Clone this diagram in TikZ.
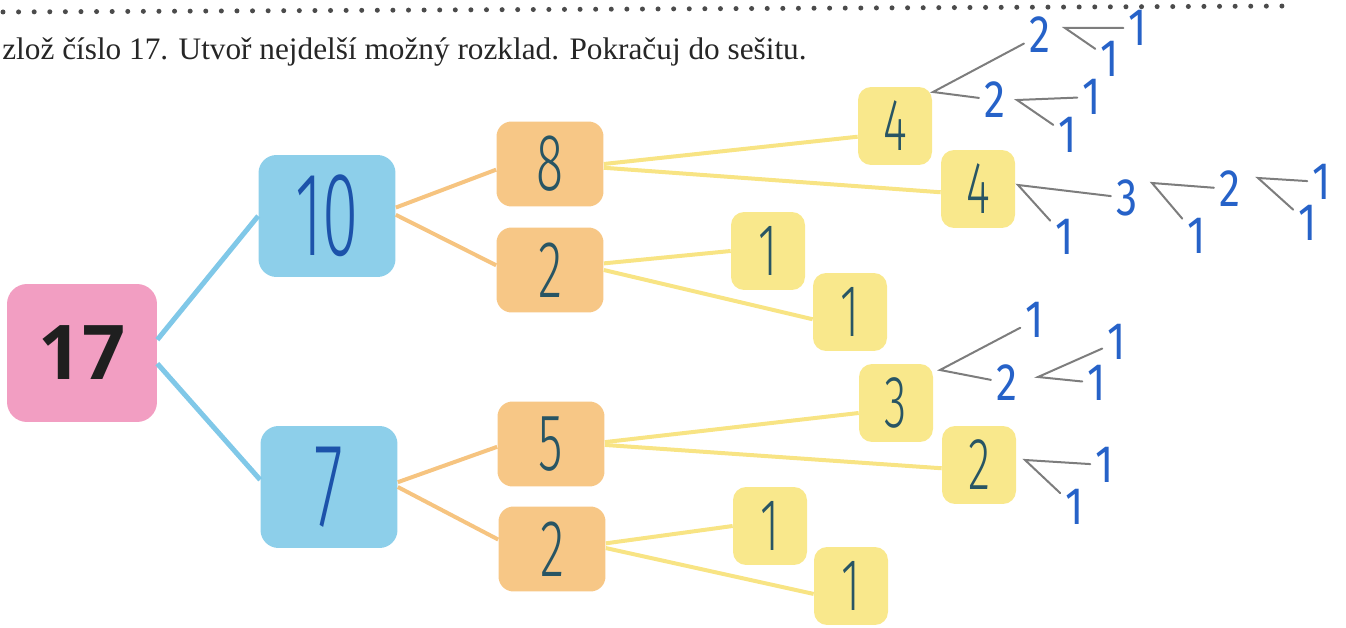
\documentclass[tikz,border=0pt]{standalone}
\usepackage{fontspec}
\usepackage{graphicx}
\usepackage{tikz}
\usetikzlibrary{positioning}
\setmainfont{Liberation Serif}
\newfontfamily\handfont{Fira Sans Light}
\newfontfamily\penfont{Fira Sans}
\newfontfamily\numfont{Open Sans}
\definecolor{boxpink}{RGB}{242,158,194}
\definecolor{boxblue}{RGB}{141,207,234}
\definecolor{boxorange}{RGB}{247,199,134}
\definecolor{boxyellow}{RGB}{249,232,140}
\definecolor{lineblue}{RGB}{128,200,232}
\definecolor{lineorange}{RGB}{246,196,128}
\definecolor{lineyellow}{RGB}{248,228,132}
\definecolor{inkteal}{RGB}{40,85,100}
\definecolor{inkblue}{RGB}{28,82,170}
\definecolor{penblue}{RGB}{38,98,200}
\definecolor{pencilgrey}{RGB}{125,125,125}
\definecolor{dotgrey}{RGB}{75,75,75}
\newcommand{\hnum}[2][0.62]{\scalebox{#1}[1]{#2}}
\newcommand{\pnum}[1]{\scalebox{0.8}[1]{#1}}
\tikzset{
    numbox/.style={inner sep=0pt, align=center},
    pinkbox/.style={numbox, fill=boxpink, minimum width=3cm, minimum height=2.76cm, rounded corners=0.4cm, text=black!88, font=\numfont\bfseries\fontsize{43}{43}\selectfont},
    bluebox/.style={numbox, fill=boxblue, minimum width=2.74cm, minimum height=2.44cm, rounded corners=0.36cm, text=inkblue, font=\handfont\fontsize{68}{68}\selectfont},
    orangebox/.style={numbox, fill=boxorange, minimum width=2.14cm, minimum height=1.7cm, rounded corners=0.3cm, text=inkteal, font=\handfont\fontsize{46}{46}\selectfont},
    yellowbox/.style={numbox, fill=boxyellow, minimum width=1.48cm, minimum height=1.56cm, rounded corners=0.26cm, text=inkteal, font=\handfont\fontsize{42}{42}\selectfont},
    pen/.style={text=penblue, inner sep=3pt, font=\penfont\fontsize{30}{30}\selectfont},
    blueline/.style={draw=lineblue, line width=0.1cm},
    orangeline/.style={draw=lineorange, line width=0.08cm},
    yellowline/.style={draw=lineyellow, line width=0.08cm},
    pencil/.style={draw=pencilgrey, line width=0.04cm, line cap=round},
    dotrow/.style={draw=dotgrey, line width=0.1cm, line cap=round, dash pattern=on 0pt off 0.312cm}
}
\begin{document}
\begin{tikzpicture}[x=0.02cm, y=-0.02cm]
                    \useasboundingbox (0,0) rectangle (1346,628);
                    \coordinate (dotsleft) at (3,12);
                    \coordinate (dotsright) at (1292,6);
                    \draw[dotrow] (dotsleft) -- (dotsright);
                    \node[anchor=base west, inner sep=0pt, text=black!85, font=\fontsize{17.8}{20}\selectfont](task) at (2,60){zlož číslo 17. Utvoř nejdelší možný rozklad. Pokračuj do sešitu.};

                    \node[pinkbox](n17) at (82,353){17};
                    \node[bluebox](n10) at (327,216){\hnum[0.55]{10}};
                    \node[bluebox](n7) at (329,487){\hnum[0.55]{7}};
                    \draw[blueline] (n17.10) -- (n10.west);
                    \draw[blueline] (n17.-8) -- (n7.174);

                    \node[orangebox](n8) at (550,164){\hnum{8}};
                    \node[orangebox](n2u) at (550,270){\hnum{2}};
                    \node[orangebox](n5) at (551,444){\hnum{5}};
                    \node[orangebox](n2l) at (552,549){\hnum{2}};
                    \draw[orangeline] (n10.7) -- (n8.186);
                    \draw[orangeline] (n10.1) -- (n2u.175);
                    \draw[orangeline] (n7.4) -- (n5.183);
                    \draw[orangeline] (n7.0) -- (n2l.170);

                    \node[yellowbox](n4u) at (895,126){\hnum{4}};
                    \node[yellowbox](n4l) at (978,189){\hnum{4}};
                    \node[yellowbox](n1a) at (768,251){\hnum{1}};
                    \node[yellowbox](n1b) at (850,312){\hnum{1}};
                    \node[yellowbox](n3) at (896,403){\hnum{3}};
                    \node[yellowbox](n2y) at (979,465){\hnum{2}};
                    \node[yellowbox](n1c) at (770,526){\hnum{1}};
                    \node[yellowbox](n1d) at (851,586){\hnum{1}};
                    \draw[yellowline] (n8.0) -- (n4u.196);
                    \draw[yellowline] (n8.-4) -- (n4l.185);
                    \draw[yellowline] (n2u.7) -- (n1a.west);
                    \draw[yellowline] (n2u.0) -- (n1b.191);
                    \draw[yellowline] (n5.2) -- (n3.195);
                    \draw[yellowline] (n5.-1) -- (n2y.185);
                    \draw[yellowline] (n2l.6) -- (n1c.west);
                    \draw[yellowline] (n2l.1) -- (n1d.192);

                    \coordinate (v4u) at (933,92);
                    \node[pen](p2a) at (1040,35){\pnum{2}};
                    \node[pen](p2b) at (995,100){\pnum{2}};
                    \draw[pencil] (p2a) -- (v4u) -- (p2b);
                    \coordinate (v2a) at (1065,28);
                    \node[pen](p1a) at (1138,28){\pnum{1}};
                    \node[pen](p1b) at (1110,59){\pnum{1}};
                    \draw[pencil] (p1a) -- (v2a) -- (p1b);
                    \coordinate (v2b) at (1017,100);
                    \node[pen](p1c) at (1092,97){\pnum{1}};
                    \node[pen](p1d) at (1068,135){\pnum{1}};
                    \draw[pencil] (p1c) -- (v2b) -- (p1d);

                    \coordinate (v4l) at (1018,185);
                    \node[pen](p3) at (1127,198){\pnum{3}};
                    \node[pen](p1e) at (1065,237){\pnum{1}};
                    \draw[pencil] (p3) -- (v4l) -- (p1e);
                    \coordinate (v3) at (1152,183);
                    \node[pen](p2c) at (1230,189){\pnum{2}};
                    \node[pen](p1f) at (1197,236){\pnum{1}};
                    \draw[pencil] (p2c) -- (v3) -- (p1f);
                    \coordinate (v2c) at (1258,178);
                    \node[pen](p1g) at (1322,182){\pnum{1}};
                    \node[pen](p1h) at (1308,223){\pnum{1}};
                    \draw[pencil] (p1g) -- (v2c) -- (p1h);

                    \coordinate (v3y) at (940,370);
                    \node[pen](p1i) at (1035,320){\pnum{1}};
                    \node[pen](p2d) at (1007,383){\pnum{2}};
                    \draw[pencil] (p1i) -- (v3y) -- (p2d);
                    \coordinate (v2d) at (1038,377);
                    \node[pen](p1j) at (1117,342){\pnum{1}};
                    \node[pen](p1k) at (1097,383){\pnum{1}};
                    \draw[pencil] (p1j) -- (v2d) -- (p1k);

                    \coordinate (v2y) at (1025,460);
                    \node[pen](p1l) at (1105,465){\pnum{1}};
                    \node[pen](p1m) at (1075,507){\pnum{1}};
                    \draw[pencil] (p1l) -- (v2y) -- (p1m);
                \end{tikzpicture}
\end{document}
